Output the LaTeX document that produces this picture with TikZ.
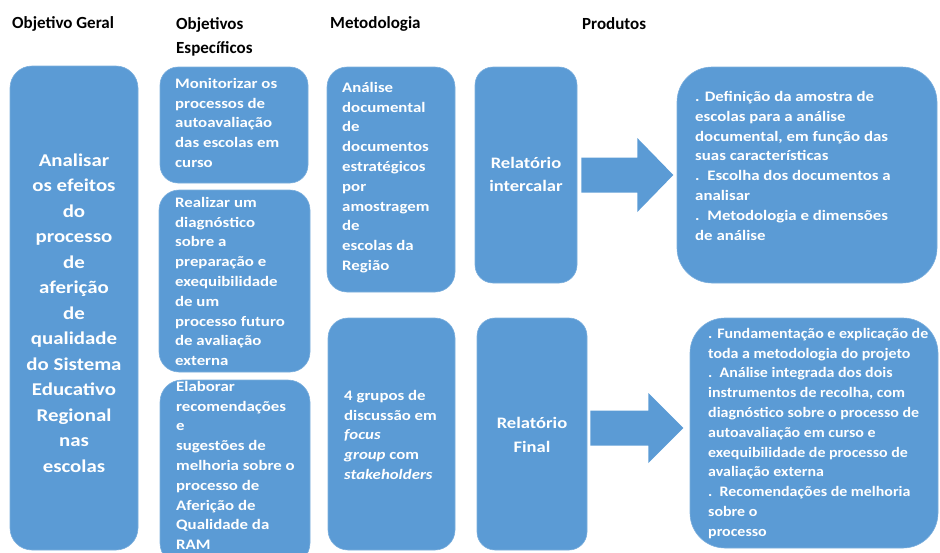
\documentclass[tikz,border=0pt]{standalone}
\usepackage{fontspec}
\setmainfont{Carlito}
\newfontfamily\boxfont[FakeStretch=1.16]{Carlito}
\newfontfamily\boxfontn[FakeStretch=1.1]{Carlito}
\usetikzlibrary{calc}
\definecolor{boxblue}{RGB}{91,155,213}
\tikzset{
 blk/.style={rectangle, fill=boxblue, draw=boxblue!80!white, line width=0.6pt, inner sep=0pt},
 bt/.style={text=white, font=\boxfont\bfseries\fontsize{14.5}{19.8}\selectfont, inner sep=0pt, anchor=north west, align=left},
 ct/.style={text=white, inner sep=0pt, anchor=center, align=center},
 hd/.style={font=\bfseries\fontsize{17}{24}\selectfont, inner sep=0pt, anchor=west, align=left},
 barrow/.style={fill=boxblue},
}
\begin{document}
\begin{tikzpicture}[x=1pt,y=-1pt]
\useasboundingbox (0,0) rectangle (940,552);
% headers
\node[hd] (h1) at (12,24) {Objetivo Geral};
\node[hd, anchor=north west] (h2) at (176,17) {Objetivos\\Específicos};
\node[hd] (h3) at (330,24) {Metodologia};
\node[hd] (h4) at (582,24) {Produtos};
% boxes
\node[blk, rounded corners=22pt, minimum width=128pt, minimum height=484pt] (g) at (74,308) {};
\node[blk, rounded corners=18pt, minimum width=148pt, minimum height=116pt] (o1) at (234,125) {};
\node[blk, rounded corners=20pt, minimum width=151pt, minimum height=182pt] (o2) at (234.5,281) {};
\node[blk, rounded corners=22pt, minimum width=150pt, minimum height=185pt] (o3) at (235,472.5) {};
\node[blk, rounded corners=20pt, minimum width=128pt, minimum height=225pt] (m1) at (391,179.5) {};
\node[blk, rounded corners=18pt, minimum width=102pt, minimum height=216pt] (r1) at (526,175) {};
\node[blk, rounded corners=35pt, minimum width=260pt, minimum height=216pt] (p1) at (807,175) {};
\node[blk, rounded corners=20pt, minimum width=127pt, minimum height=232pt] (m2) at (391.5,434) {};
\node[blk, rounded corners=18pt, minimum width=110pt, minimum height=232pt] (r2) at (532,434) {};
\node[blk, rounded corners=35pt, minimum width=248pt, minimum height=230pt] (p2) at (814,433) {};
% block arrows
\coordinate (a1) at ($(r1.east)+(4,0)$);
\fill[barrow] ($(a1)+(0,-17.5)$) -- ($(a1)+(56,-17.5)$) -- ($(a1)+(56,-37)$) -- ($(a1)+(92,0)$)
  -- ($(a1)+(56,37)$) -- ($(a1)+(56,17.5)$) -- ($(a1)+(0,17.5)$) -- cycle;
\coordinate (a2) at ($(r2.east)+(3,-6)$);
\fill[barrow] ($(a2)+(0,-17.5)$) -- ($(a2)+(58,-17.5)$) -- ($(a2)+(58,-35)$) -- ($(a2)+(93,0)$)
  -- ($(a2)+(58,35)$) -- ($(a2)+(58,17.5)$) -- ($(a2)+(0,17.5)$) -- cycle;
% texts
\node[ct, font=\boxfont\bfseries\fontsize{18}{25.5}\selectfont] (gt) at (74,313)
 {Analisar\\os efeitos\\do\\processo\\de\\aferição\\de\\qualidade\\do Sistema\\Educativo\\Regional\\nas\\escolas};
\node[bt] (o1t) at (175,78) {Monitorizar os\\processos de\\autoavaliação\\das escolas em\\curso};
\node[bt] (o2t) at (175,197) {Realizar um\\diagnóstico\\sobre a\\preparação e\\exequibilidade\\de um\\processo futuro\\de avaliação\\externa};
\node[bt] (o3t) at (176,381) {Elaborar\\recomendações\\e\\sugestões de\\melhoria sobre o\\processo de\\Aferição de\\Qualidade da\\RAM};
\node[bt] (m1t) at (342,82) {Análise\\documental\\de\\documentos\\estratégicos\\por\\amostragem\\de\\escolas da\\Região};
\node[ct, font=\boxfont\bfseries\fontsize{16}{23}\selectfont] (r1t) at (526,174.5) {Relatório\\intercalar};
\node[bt] (p1t) at (695,91) {. Definição da amostra de\\escolas para a análise\\documental, em função das\\suas características\\.\ \ Escolha dos documentos a\\analisar\\.\ \ Metodologia e dimensões\\de análise};
\node[bt] (m2t) at (344,390) {4 grupos de\\discussão em\\\textit{focus}\\\textit{group} com\\\textit{stakeholders}};
\node[ct, font=\boxfont\bfseries\fontsize{16}{24}\selectfont] (r2t) at (532,435) {Relatório\\Final};
\node[bt, font=\boxfontn\bfseries\fontsize{14.5}{19.8}\selectfont] (p2t) at (708,328) {. Fundamentação e explicação de\\toda a metodologia do projeto\\.\ \ Análise integrada dos dois\\instrumentos de recolha, com\\diagnóstico sobre o processo de\\autoavaliação em curso e\\exequibilidade de processo de\\avaliação externa\\.\ \ Recomendações de melhoria\\sobre o\\processo};
\end{tikzpicture}
\end{document}
